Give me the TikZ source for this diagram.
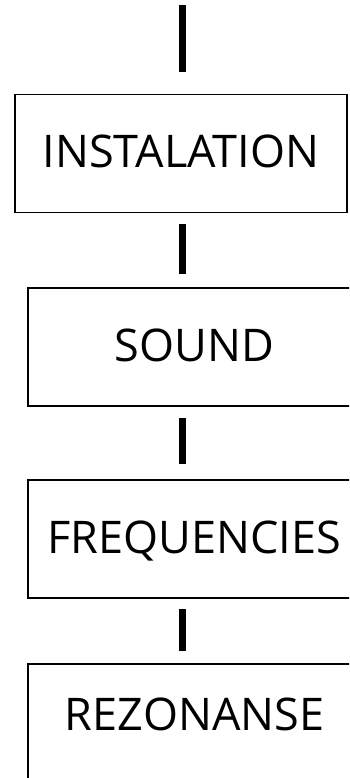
\documentclass[tikz,border=0pt]{standalone}
\usepackage{fontspec}
\setmainfont{Open Sans}
\begin{document}
\begin{tikzpicture}[x=1pt,y=1pt,
  stagebox/.style={draw=black, line width=1.7pt, minimum height=118pt,
    inner sep=0pt, text height=33pt, text depth=4pt,
    font=\fontsize{45}{45}\selectfont},
  link/.style={line width=7pt}]
\useasboundingbox (0,0) rectangle (349,778);
\clip (0,0) rectangle (349,778);
\node[stagebox, minimum width=332pt] (b1) at (181,624.5) {INSTALATION};
\node[stagebox, minimum width=333pt] (b2) at (194.5,431) {SOUND};
\node[stagebox, minimum width=333pt] (b3) at (194.5,239) {FREQUENCIES};
\node[stagebox, minimum width=333pt, text depth=18pt] (b4) at (194.5,55) {REZONANSE};
\coordinate (c1a) at (182,773);
\coordinate (c1b) at (182,706);
\coordinate (c2a) at (182,554);
\coordinate (c2b) at (182,504);
\coordinate (c3a) at (182,360);
\coordinate (c3b) at (182,314);
\coordinate (c4a) at (182,169);
\coordinate (c4b) at (182,127);
\draw[link] (c1a) -- (c1b);
\draw[link] (c2a) -- (c2b);
\draw[link] (c3a) -- (c3b);
\draw[link] (c4a) -- (c4b);
\end{tikzpicture}
\end{document}
